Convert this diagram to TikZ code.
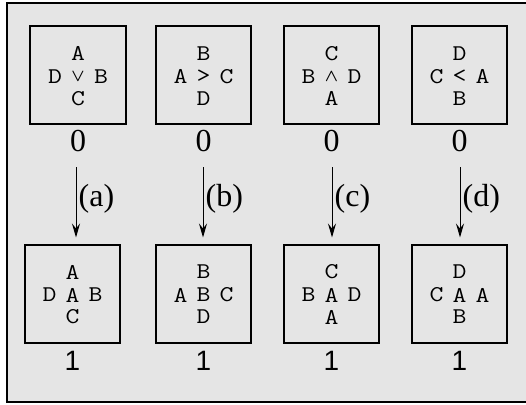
\documentclass[tikz,border=0pt]{standalone}
\usepackage{fontspec}
\setmainfont{Liberation Serif}
\newfontfamily\monof{Latin Modern Mono}[FakeStretch=1.2]
\newfontfamily\sansf{Liberation Sans}
\usetikzlibrary{arrows.meta}
\definecolor{bggray}{RGB}{229,229,229}
\tikzset{
  boxst/.style={draw, line width=2pt, minimum width=95.5pt, minimum height=98pt, inner sep=0pt},
  letst/.style={inner sep=0pt, anchor=center, font=\monof\fontsize{22.5}{22.5}\selectfont},
  opst/.style={inner sep=0pt, anchor=center, font=\monof\fontsize{22.5}{22.5}\selectfont},
  mopst/.style={inner sep=0pt, anchor=center, font=\fontsize{17.5}{17.5}\selectfont\boldmath},
  zerost/.style={inner sep=0pt, anchor=base, font=\fontsize{32}{32}\selectfont},
  onest/.style={inner sep=0pt, anchor=base, font=\sansf\fontsize{28}{28}\selectfont},
  labst/.style={inner sep=0pt, anchor=base west, font=\fontsize{32}{32}\selectfont},
  arrst/.style={line width=1pt, -{Stealth[length=14pt,width=8pt,inset=5pt]}, shorten >=6pt},
  framest/.style={line width=2pt},
}
% name, x, y, N, W, C, E, S, centre style
\newcommand\cellfig[9]{%
  \node[boxst] (#1) at (#2,#3) {};
  \path (#2,#3) ++(0,-21.5) node[letst] (#1n) {#4};
  \path (#2,#3) ++(-23,1.5) node[letst] (#1w) {#5};
  \path (#2,#3) ++(0,1.5) node[#9] (#1c) {#6};
  \path (#2,#3) ++(23,1.5) node[letst] (#1e) {#7};
  \path (#2,#3) ++(0,23.5) node[letst] (#1s) {#8};
}
\begin{document}
\begin{tikzpicture}[x=1pt,y=-1pt]
\useasboundingbox (0,0) rectangle (526,404);
\fill[bggray] (6.5,3) rectangle (526,401.5);
\draw[framest] (527,3) -- (6.5,3) -- (6.5,401.5) -- (527,401.5);
% top row
\cellfig{t1}{78}{75}{A}{D}{$\vee$}{B}{C}{mopst}
\cellfig{t2}{203.5}{75}{B}{A}{>}{C}{D}{opst}
\cellfig{t3}{331.5}{75}{C}{B}{$\wedge$}{D}{A}{mopst}
\cellfig{t4}{459.5}{75}{D}{C}{<}{A}{B}{opst}
% bottom row
\cellfig{b1}{72.5}{293.5}{A}{D}{A}{B}{C}{letst}
\cellfig{b2}{203.5}{293.5}{B}{A}{B}{C}{D}{letst}
\cellfig{b3}{331.5}{293.5}{C}{B}{A}{D}{A}{letst}
\cellfig{b4}{459.5}{293.5}{D}{C}{A}{A}{B}{letst}
% counts
\node[zerost] (z1) at (78,151.3) {0};
\node[zerost] (z2) at (203.5,151.3) {0};
\node[zerost] (z3) at (331.5,151.3) {0};
\node[zerost] (z4) at (459.5,151.3) {0};
\node[onest] (o1) at (72.5,370) {1};
\node[onest] (o2) at (203.5,370) {1};
\node[onest] (o3) at (331.5,370) {1};
\node[onest] (o4) at (459.5,370) {1};
% arrows
\coordinate (s1) at (76,167);
\coordinate (s2) at (203,167);
\coordinate (s3) at (332,167);
\coordinate (s4) at (460,167);
\draw[arrst] (s1) -- (s1 |- b1.north);
\draw[arrst] (s2) -- (s2 |- b2.north);
\draw[arrst] (s3) -- (s3 |- b3.north);
\draw[arrst] (s4) -- (s4 |- b4.north);
\node[labst] (l1) at (78.5,206.5) {(a)};
\node[labst] (l2) at (205.5,206.5) {(b)};
\node[labst] (l3) at (334.5,206.5) {(c)};
\node[labst] (l4) at (462.5,206.5) {(d)};
\end{tikzpicture}
\end{document}
